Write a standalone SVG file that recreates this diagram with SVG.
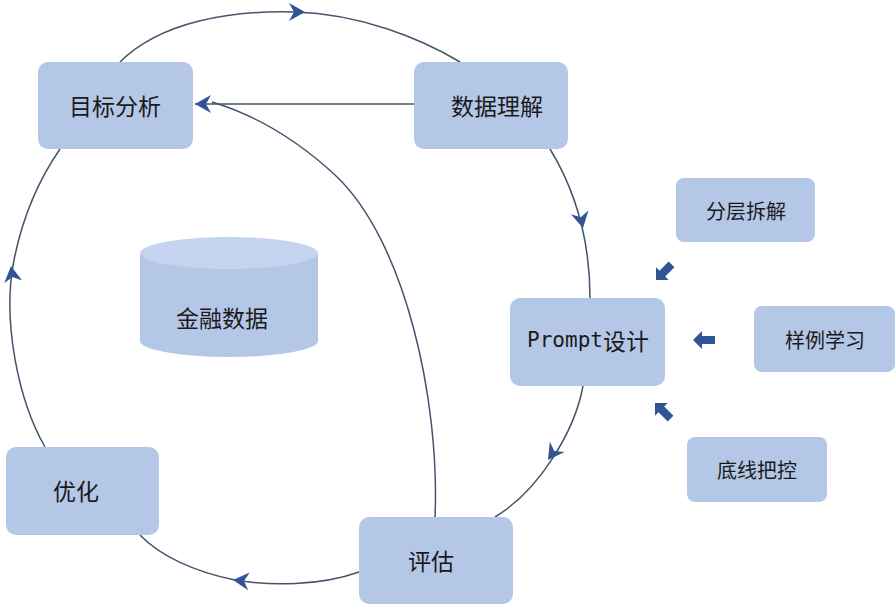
<svg xmlns="http://www.w3.org/2000/svg" width="896" height="606" viewBox="0 0 896 606">
<style>
.n{fill:#b4c7e7}
.t{font-family:"Noto Sans CJK SC","Noto Sans",sans-serif;font-size:23px;fill:#1a1a1a;text-anchor:middle;dominant-baseline:central}
.s{font-size:20px}
.c{fill:none;stroke:#44546a;stroke-width:1.5}
.h{fill:#2f5597}
</style>
<defs>
<path id="ah" d="M0,0 L-16,-9 L-11,0 L-16,9 Z" class="h"/>
<path id="ba" d="M0,0 L9,-9 L9,-4 L22,-4 L22,4 L9,4 L9,9 Z" class="h"/>
<marker id="m" viewBox="-17 -10 18 20" refX="0" refY="0" markerWidth="18" markerHeight="20" markerUnits="userSpaceOnUse" orient="auto"><path d="M0,0 L-16,-9 L-11,0 L-16,9 Z" fill="#2f5597"/></marker>
</defs>
<g id="connectors">
<path class="c" d="M120,62 C160,22 230,10 295,12 C360,14 420,38 460,62"/>
<path class="c" d="M550,149 C572,185 590,235 590,298"/>
<path class="c" d="M583,386 C575,430 540,490 495,517"/>
<path class="c" d="M359,572 C320,586 270,586 235,580 C195,572 160,556 140,535"/>
<path class="c" d="M45,447 C18,400 2,320 14,260 C24,210 42,175 60,149"/>
<path class="c" d="M414,104 L195,104" marker-end="url(#m)"/>
<path class="c" d="M435,517 C440,400 405,240 335,175 C295,138 255,115 212,102"/>
<use href="#ah" transform="translate(305,12)"/>
<use href="#ah" transform="translate(583,228) rotate(78)"/>
<use href="#ah" transform="translate(548,460) rotate(125)"/>
<use href="#ah" transform="translate(233,580) rotate(185)"/>
<use href="#ah" transform="translate(11,266) rotate(-98)"/>
<use href="#ba" transform="translate(656,280) rotate(-45)"/>
<use href="#ba" transform="translate(693,340)"/>
<use href="#ba" transform="translate(655,403) rotate(45)"/>
</g>
<g id="n1"><rect class="n" x="38" y="62" width="155" height="87" rx="10"/><text class="t" x="115" y="105">目标分析</text></g>
<g id="n2"><rect class="n" x="414" y="62" width="154" height="87" rx="10"/><text class="t" x="497" y="105">数据理解</text></g>
<g id="n3"><rect class="n" x="510" y="298" width="155" height="88" rx="10"/><text class="t" x="588" y="340"><tspan font-family="DejaVu Sans Mono,monospace" font-size="21">Prompt</tspan>设计</text></g>
<g id="n4"><rect class="n" x="6" y="447" width="153" height="88" rx="10"/><text class="t" x="76" y="490">优化</text></g>
<g id="n5"><rect class="n" x="359" y="517" width="154" height="87" rx="10"/><text class="t" x="431" y="560">评估</text></g>
<g id="n6"><rect class="n" x="676" y="178" width="139" height="64" rx="8"/><text class="t s" x="746" y="210">分层拆解</text></g>
<g id="n7"><rect class="n" x="754" y="306" width="141" height="66" rx="8"/><text class="t s" x="825" y="339">样例学习</text></g>
<g id="n8"><rect class="n" x="687" y="437" width="140" height="65" rx="8"/><text class="t s" x="757" y="469">底线把控</text></g>
<g id="db">
<path class="n" d="M140,253 L140,341 A89,16 0 0 0 318,341 L318,253 Z"/>
<ellipse cx="229" cy="253" rx="89" ry="16" fill="#c5d4ee"/>
<text class="t" x="222" y="317">金融数据</text>
</g>
</svg>
